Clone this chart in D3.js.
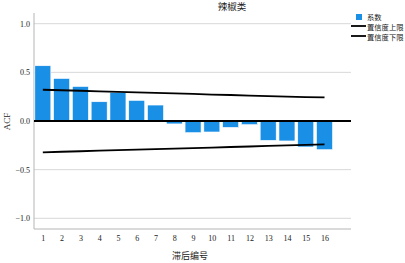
<!DOCTYPE html>
<html>
<head>
<meta charset="utf-8">
<script src="https://cdn.jsdelivr.net/npm/d3@7"></script>
<style>
  body { margin: 0; background: #fff; }
  text { font-family: "Liberation Serif", "Noto Sans CJK SC", serif; fill: #222; }
</style>
</head>
<body>
<svg id="chart" width="405" height="263"></svg>
<script>
// lags and ACF values
const lags = [1, 2, 3, 4, 5, 6, 7, 8, 9, 10, 11, 12, 13, 14, 15, 16];
const acf = [0.568, 0.437, 0.355, 0.198, 0.294, 0.212, 0.164, -0.03, -0.12, -0.113, -0.066, -0.038, -0.199, -0.205, -0.267, -0.295];
const upperLimit = [0.321, 0.316, 0.311, 0.305, 0.300, 0.294, 0.289, 0.283, 0.278, 0.272, 0.267, 0.261, 0.256, 0.251, 0.246, 0.242];
const lowerLimit = [-0.322, -0.316, -0.311, -0.305, -0.300, -0.294, -0.289, -0.283, -0.278, -0.273, -0.267, -0.262, -0.256, -0.251, -0.245, -0.240];
const yTicks = [-1.0, -0.5, 0.0, 0.5, 1.0];
const legendLabels = ["系数", "置信度上限", "置信度下限"];

const svg = d3.select("#chart");
const mLeft = 34, mRight = 351, mTop = 13, mBottom = 229;
const barColor = "#1a8fe6";

const x = d3.scaleLinear().domain([0.53, 17.41]).range([mLeft, mRight]);
const y = d3.scaleLinear().domain([-1.11, 1.11]).range([mBottom, mTop]);
const barW = 16;

// grid lines
svg.append("g")
  .selectAll("line")
  .data(yTicks.filter(d => d !== 0))
  .join("line")
  .attr("x1", mLeft).attr("x2", mRight)
  .attr("y1", d => y(d)).attr("y2", d => y(d))
  .attr("stroke", "#d8d8d8").attr("stroke-width", 1);

// y axis
const yAxis = svg.append("g")
  .attr("transform", "translate(" + mLeft + ",0)")
  .call(d3.axisLeft(y).tickValues(yTicks).tickFormat(d3.format(".1f")).tickSize(0).tickPadding(4));
yAxis.select(".domain").attr("stroke", "#b5b5b5").attr("d", "M0," + mTop + "V" + mBottom);
yAxis.selectAll("text").attr("font-size", "8px").attr("font-family", "Liberation Serif").attr("fill", "#222");

// x axis
const xAxis = svg.append("g")
  .attr("transform", "translate(0," + mBottom + ")")
  .call(d3.axisBottom(x).tickValues(lags).tickFormat(d3.format("d")).tickSize(0).tickPadding(6));
xAxis.select(".domain").attr("stroke", "#b5b5b5").attr("d", "M" + mLeft + ",0H" + mRight);
xAxis.selectAll("text").attr("font-size", "8px").attr("font-family", "Liberation Serif").attr("fill", "#222");

// bars
svg.append("g")
  .selectAll("rect")
  .data(lags)
  .join("rect")
  .attr("x", (d) => x(d) - barW / 2)
  .attr("width", barW)
  .attr("y", (d, i) => y(Math.max(0, acf[i])))
  .attr("height", (d, i) => Math.abs(y(acf[i]) - y(0)))
  .attr("fill", barColor)
  .attr("stroke", "#ffffff")
  .attr("stroke-width", 0.6);

// zero line
svg.append("line")
  .attr("x1", mLeft).attr("x2", mRight)
  .attr("y1", y(0)).attr("y2", y(0))
  .attr("stroke", "#000").attr("stroke-width", 1.8);

// confidence limits
const line = d3.line().x((d, i) => x(lags[i])).y(d => y(d));
[upperLimit, lowerLimit].forEach(function (s) {
  svg.append("path")
    .attr("d", line(s))
    .attr("fill", "none")
    .attr("stroke", "#000")
    .attr("stroke-width", 1.8);
});

// title and axis labels
svg.append("text")
  .attr("x", 232).attr("y", 10)
  .attr("text-anchor", "middle")
  .attr("font-size", "9.5px")
  .text("辣椒类");

svg.append("text")
  .attr("transform", "translate(10,121.5) rotate(-90)")
  .attr("text-anchor", "middle")
  .attr("font-size", "9px")
  .text("ACF");

svg.append("text")
  .attr("x", 190).attr("y", 259)
  .attr("text-anchor", "middle")
  .attr("font-size", "9px")
  .text("滞后编号");

// legend
const lg = svg.append("g");
lg.append("rect")
  .attr("x", 356).attr("y", 14)
  .attr("width", 6).attr("height", 6)
  .attr("fill", barColor);
[26, 36].forEach(function (yy) {
  lg.append("line")
    .attr("x1", 351).attr("x2", 366)
    .attr("y1", yy).attr("y2", yy)
    .attr("stroke", "#000").attr("stroke-width", 1.8);
});
lg.selectAll("text")
  .data(legendLabels)
  .join("text")
  .attr("x", 367)
  .attr("y", (d, i) => 19.5 + i * 10)
  .attr("font-size", "7.3px")
  .text(d => d);
</script>
</body>
</html>
